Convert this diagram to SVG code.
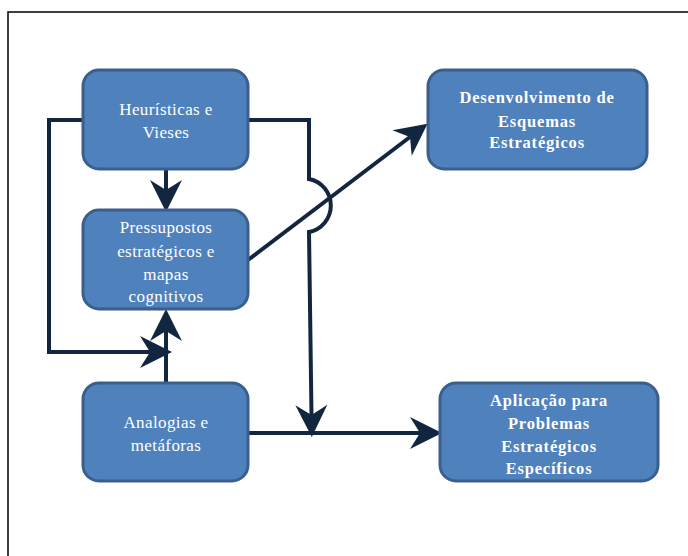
<svg xmlns="http://www.w3.org/2000/svg" width="688" height="556" viewBox="0 0 688 556">
  <style>
    .box { fill: #4F81BD; stroke: #3A5F8E; stroke-width: 3; }
    .lbl { font-family: "Liberation Serif", "Times New Roman", serif; font-size: 17px; fill: #FFFFFF; text-anchor: middle; letter-spacing: 0.4px; }
    .bold { font-weight: bold; font-size: 16.5px; letter-spacing: 0.8px; }
    .wire { fill: none; stroke: #13263F; stroke-width: 4; stroke-linecap: butt; stroke-linejoin: miter; }
  </style>
  <defs>
    <marker id="head" markerUnits="userSpaceOnUse" markerWidth="36" markerHeight="36" viewBox="-12 -18 36 36" refX="0" refY="0" orient="auto">
      <path d="M22,0 L-10,-16 L0,0 L-10,16 Z" fill="#13263F"/>
    </marker>
  </defs>

  <rect width="688" height="556" fill="#FFFFFF"/>
  <!-- page frame -->
  <path d="M8,560 V12 H692" fill="none" stroke="#000000" stroke-width="1.5"/>

  <!-- connectors -->
  <g id="connectors">
    <path class="wire" d="M166,169 V190" marker-end="url(#head)"/>
    <path class="wire" d="M83,120 H49 V352 H150" marker-end="url(#head)"/>
    <path class="wire" d="M166,383 V331" marker-end="url(#head)"/>
    <path class="wire" d="M248,120 H309 V179 A27,27 0 0 1 309,232 L311.5,415" marker-end="url(#head)"/>
    <path class="wire" d="M248,260 L410,137" marker-end="url(#head)"/>
    <path class="wire" d="M248,433 H420" marker-end="url(#head)"/>
  </g>

  <g id="heuristicas">
    <rect class="box" x="83" y="70" width="165" height="99" rx="16"/>
    <text class="lbl" x="166" y="115">Heurísticas e</text>
    <text class="lbl" x="166" y="138">Vieses</text>
  </g>

  <g id="pressupostos">
    <rect class="box" x="83" y="210" width="165" height="99" rx="16"/>
    <text class="lbl" x="166" y="233">Pressupostos</text>
    <text class="lbl" x="166" y="257">estratégicos e</text>
    <text class="lbl" x="166" y="280">mapas</text>
    <text class="lbl" x="166" y="302">cognitivos</text>
  </g>

  <g id="analogias">
    <rect class="box" x="83" y="383" width="165" height="98" rx="16"/>
    <text class="lbl" x="166" y="428">Analogias e</text>
    <text class="lbl" x="166" y="451">metáforas</text>
  </g>

  <g id="desenvolvimento">
    <rect class="box" x="428" y="70" width="219" height="99" rx="16"/>
    <text class="lbl bold" x="537" y="103">Desenvolvimento de</text>
    <text class="lbl bold" x="537" y="127">Esquemas</text>
    <text class="lbl bold" x="537" y="148">Estratégicos</text>
  </g>

  <g id="aplicacao">
    <rect class="box" x="440" y="383" width="218" height="98" rx="16"/>
    <text class="lbl bold" x="549" y="406">Aplicação para</text>
    <text class="lbl bold" x="549" y="429">Problemas</text>
    <text class="lbl bold" x="549" y="452">Estratégicos</text>
    <text class="lbl bold" x="549" y="474">Específicos</text>
  </g>
</svg>
